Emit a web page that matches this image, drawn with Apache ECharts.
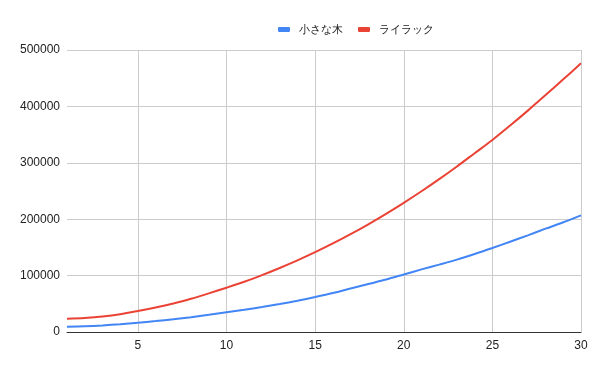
<!DOCTYPE html>
<html>
<head>
<meta charset="utf-8">
<script src="https://cdn.jsdelivr.net/npm/echarts@6/dist/echarts.min.js"></script>
<style>html,body{margin:0;padding:0;background:#fff}#c{width:600px;height:371px}</style>
</head>
<body>
<div id="c"></div>
<script>
const xValues = [1,2,3,4,5,6,7,8,9,10,11,12,13,14,15,16,17,18,19,20,21,22,23,24,25,26,27,28,29,30];
const smallTree = [9400,10200,11700,13800,16500,19300,22500,26300,30400,34900,39500,44300,49600,55500,62000,69000,77000,85000,93000,102000,111000,119500,128300,138300,149000,160100,171400,183200,194500,206900];
const lilac = [23600,25000,27500,31500,37200,43500,50500,59000,68500,78500,89000,100800,113500,127000,141500,157000,173500,191000,209500,229000,249500,271000,293500,317000,340500,366000,392500,420000,448000,476400];
const xTicks = [5,10,15,20,25,30];
const seriesNames = ['小さな木','ライラック'];

const chart = echarts.init(document.getElementById('c'));
const font = 'Liberation Sans, Arial, sans-serif';
chart.setOption({
  animation: false,
  color: ['#4285F4','#EA4335'],
  legend: {
    top: 19, left: 273,
    itemWidth: 12, itemHeight: 5, itemGap: 15,
    icon: 'roundRect',
    textStyle: {fontFamily: font, fontSize: 11, color: '#222', padding: [0,0,0,4]},
    data: seriesNames
  },
  grid: {left: 67, right: 19, top: 50, bottom: 39, containLabel: false},
  xAxis: {
    type: 'value', min: 1, max: 30,
    axisLine: {show: true, lineStyle: {color: '#333', width: 1}},
    axisTick: {show: false, customValues: xTicks},
    axisLabel: {customValues: xTicks, fontFamily: font, fontSize: 12, color: '#222', margin: 8},
    splitLine: {show: true, lineStyle: {color: '#ccc', width: 1}}
  },
  yAxis: {
    type: 'value', min: 0, max: 500000, interval: 100000,
    axisLine: {show: false}, axisTick: {show: false},
    axisLabel: {fontFamily: font, fontSize: 12, color: '#222', margin: 7, formatter: v => String(v)},
    splitLine: {lineStyle: {color: '#ccc', width: 1}}
  },
  series: [
    {name: seriesNames[0], type: 'line', smooth: 0.3, showSymbol: false, lineStyle: {width: 2},
     data: xValues.map((x,i)=>[x, smallTree[i]])},
    {name: seriesNames[1], type: 'line', smooth: 0.3, showSymbol: false, lineStyle: {width: 2},
     data: xValues.map((x,i)=>[x, lilac[i]])}
  ]
});
</script>
</body>
</html>
